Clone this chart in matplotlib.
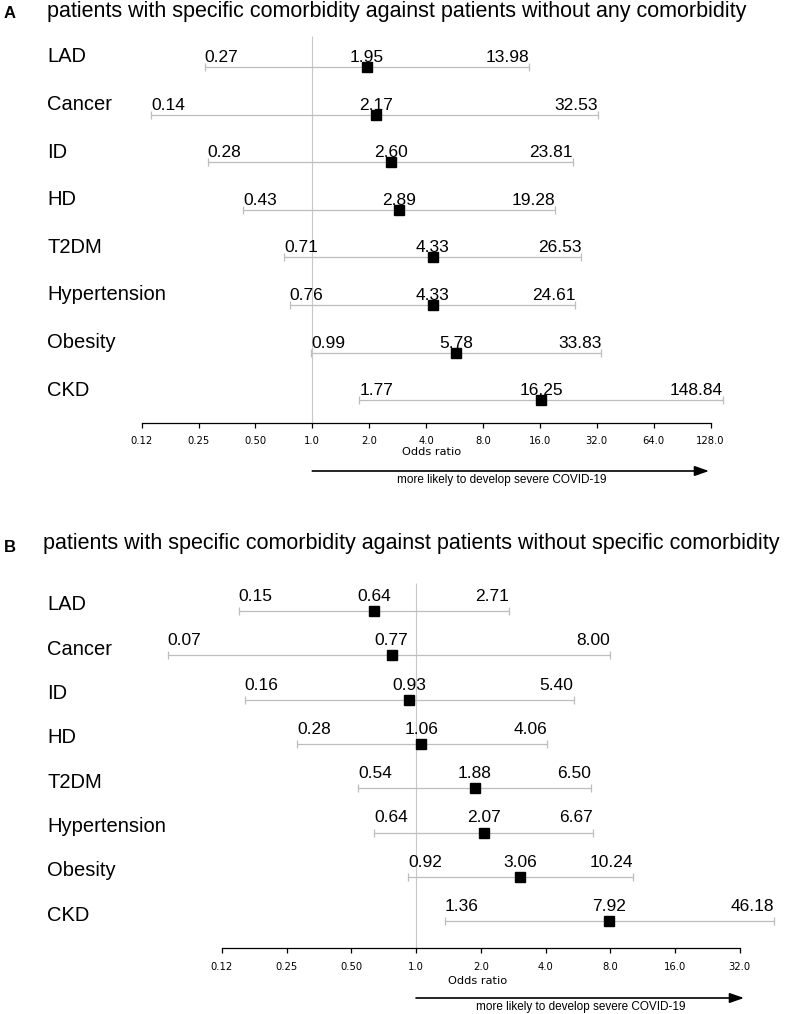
import numpy as np
import matplotlib
matplotlib.use("Agg")
import matplotlib.pyplot as plt
from matplotlib.ticker import NullLocator

# comorbidities, top to bottom
categories = ["LAD", "Cancer", "ID", "HD", "T2DM", "Hypertension", "Obesity", "CKD"]

# A: patients with specific comorbidity vs patients without any comorbidity
or_a = [1.95, 2.17, 2.60, 2.89, 4.33, 4.33, 5.78, 16.25]
lo_a = [0.27, 0.14, 0.28, 0.43, 0.71, 0.76, 0.99, 1.77]
hi_a = [13.98, 32.53, 23.81, 19.28, 26.53, 24.61, 33.83, 148.84]

# B: patients with specific comorbidity vs patients without specific comorbidity
or_b = [0.64, 0.77, 0.93, 1.06, 1.88, 2.07, 3.06, 7.92]
lo_b = [0.15, 0.07, 0.16, 0.28, 0.54, 0.64, 0.92, 1.36]
hi_b = [2.71, 8.00, 5.40, 4.06, 6.50, 6.67, 10.24, 46.18]

ticks_a = [0.125, 0.25, 0.5, 1, 2, 4, 8, 16, 32, 64, 128]
ticklabels_a = ["0.12", "0.25", "0.50", "1.0", "2.0", "4.0", "8.0", "16.0", "32.0", "64.0", "128.0"]
ticks_b = [0.125, 0.25, 0.5, 1, 2, 4, 8, 16, 32]
ticklabels_b = ["0.12", "0.25", "0.50", "1.0", "2.0", "4.0", "8.0", "16.0", "32.0"]

title_a = "patients with specific comorbidity against patients without any comorbidity"
title_b = "patients with specific comorbidity against patients without specific comorbidity"
arrow_text = "more likely to develop severe COVID-19"

W, H = 797, 1014
SANS = "Liberation Sans"
fig = plt.figure(figsize=(W / 100, H / 100), dpi=100)


def draw_panel(letter, title, lo, pt, hi, ticks, ticklabels, lay):
    # lay holds the pixel layout of one panel
    ax = fig.add_axes([0, 1 - lay["bottom"] / H, 1, (lay["bottom"] - lay["top"]) / H])
    ax.patch.set_alpha(0)
    ax.set_xscale("log", base=2)

    def px2v(xp):
        return 2 ** ((xp - lay["x1"]) / lay["ppd"])

    def row(yp):
        return (yp - lay["row0"]) / lay["step"]

    ax.set_xlim(px2v(0), px2v(W))
    ax.set_ylim(row(lay["bottom"]), row(lay["top"]))

    for s in ["top", "right", "left"]:
        ax.spines[s].set_visible(False)
    ax.spines["bottom"].set_position(("data", row(lay["axis"])))
    ax.spines["bottom"].set_bounds(ticks[0], ticks[-1])
    ax.spines["bottom"].set_linewidth(0.9)
    ax.set_xticks(ticks)
    ax.set_xticklabels(ticklabels, fontfamily="DejaVu Sans")
    ax.xaxis.set_minor_locator(NullLocator())
    ax.tick_params(axis="x", direction="out", length=3.6, width=0.9, labelsize=7.2, pad=lay["pad"])
    ax.set_yticks([])

    pt = np.array(pt)
    lo = np.array(lo)
    hi = np.array(hi)
    rows = np.arange(len(categories))

    ax.vlines(1, row(lay["ref_top"]), row(lay["axis"]), color="#c8c8c8", lw=0.8, zorder=1)
    ax.errorbar(pt, rows, xerr=[pt - lo, hi - pt], fmt="none", ecolor="#bdbdbd",
                elinewidth=0.9, capsize=2.9, capthick=0.9, zorder=2)
    ax.plot(pt, rows, "s", color="black", ms=7.2, zorder=3)

    for i, cat in enumerate(categories):
        for v, ha in [(lo[i], "left"), (pt[i], "center"), (hi[i], "right")]:
            ax.annotate(f"{v:.2f}", xy=(v, i), xytext=(0, lay["val_off"]), textcoords="offset pixels",
                        ha=ha, va="baseline", fontsize=12.5, fontfamily=SANS)
        ax.annotate(cat, xy=(47 / W, i), xycoords=ax.get_yaxis_transform(), xytext=(0, lay["lab_off"]),
                    textcoords="offset pixels", ha="left", va="center", fontsize=14.5, fontfamily=SANS)

    ax.text(px2v(lay["odds_x"]), row(lay["odds_y"]), "Odds ratio", ha="center", va="center",
            fontsize=8.2, fontfamily="DejaVu Sans")
    ax.annotate("", xy=(px2v(lay["arrow_end"]), row(lay["arrow_y"])), xytext=(1, row(lay["arrow_y"])),
                arrowprops=dict(arrowstyle="-|>,head_length=0.86,head_width=0.3", color="black",
                                lw=1.2, shrinkA=0, shrinkB=0, mutation_scale=10))
    ax.text(px2v(lay["atext_x"]), row(lay["atext_y"]), arrow_text, ha="center", va="center",
            fontsize=8.5, fontfamily=SANS)

    fig.text(4 / W, 1 - lay["letter_y"] / H, letter, ha="left", va="center", fontsize=12,
             fontweight="bold", fontfamily=SANS)
    fig.text(lay["title_x"] / W, 1 - lay["title_y"] / H, title, ha="left", va="center",
             fontsize=15.5, fontfamily=SANS)


lay_a = dict(top=25, bottom=500, row0=67, step=47.6, x1=312.3, ppd=56.9, axis=423, ref_top=36,
             val_off=5, lab_off=10, odds_x=432, odds_y=452, arrow_y=471, arrow_end=709,
             atext_x=502, atext_y=480, letter_y=13, title_x=47, title_y=12, pad=5.5)
lay_b = dict(top=565, bottom=1014, row0=611, step=44.3, x1=416, ppd=64.75, axis=948, ref_top=583,
             val_off=10, lab_off=6, odds_x=478, odds_y=981, arrow_y=998, arrow_end=744,
             atext_x=581, atext_y=1007, letter_y=547, title_x=43, title_y=543, pad=6.5)

draw_panel("A", title_a, lo_a, or_a, hi_a, ticks_a, ticklabels_a, lay_a)
draw_panel("B", title_b, lo_b, or_b, hi_b, ticks_b, ticklabels_b, lay_b)

fig.savefig("out.png", dpi=100, facecolor="white")
